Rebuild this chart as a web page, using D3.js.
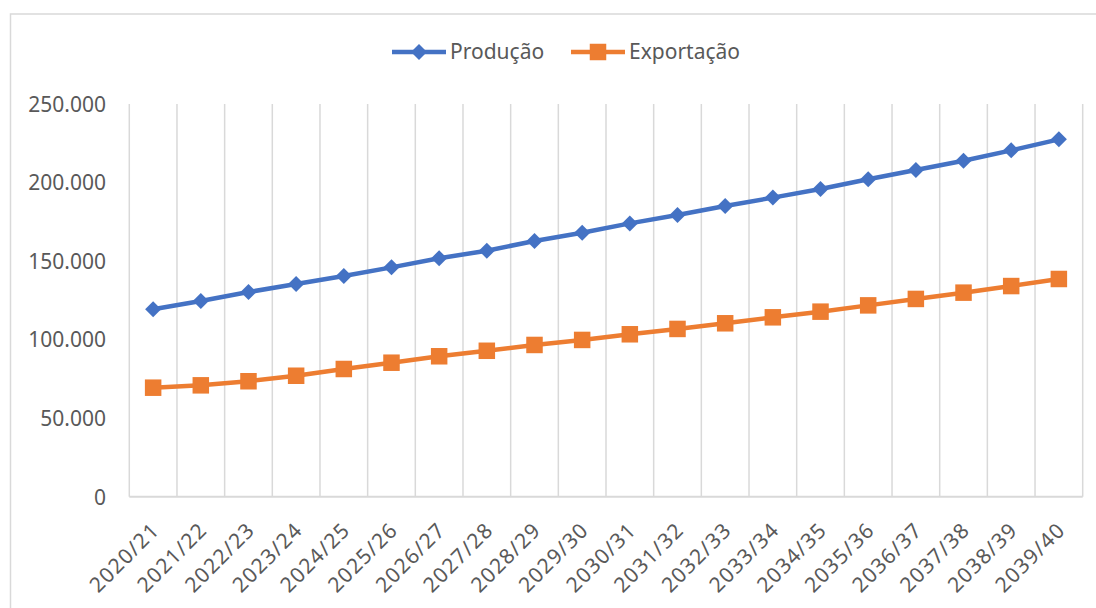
<!DOCTYPE html>
<html>
<head>
<meta charset="utf-8">
<script src="https://cdn.jsdelivr.net/npm/d3@7"></script>
<style>
  html, body { margin: 0; padding: 0; background: #fff; }
  svg { display: block; font-family: "Noto Sans", "Open Sans", sans-serif; }
</style>
</head>
<body>
<svg id="chart" width="1096" height="608"></svg>
<script>
// Harvest seasons
const categories = [
  "2020/21", "2021/22", "2022/23", "2023/24", "2024/25",
  "2025/26", "2026/27", "2027/28", "2028/29", "2029/30",
  "2030/31", "2031/32", "2032/33", "2033/34", "2034/35",
  "2035/36", "2036/37", "2037/38", "2038/39", "2039/40"
];

// Production per season
const producao = [
  119300, 124600, 130300, 135400, 140500,
  146000, 151800, 156600, 162800, 168000,
  174000, 179300, 185100, 190400, 195900,
  202100, 208000, 213900, 220500, 227500
];

// Exports per season
const exportacao = [
  69400, 70900, 73500, 77000, 81300,
  85300, 89400, 92900, 96600, 99800,
  103400, 106800, 110400, 114200, 117800,
  121800, 125900, 129900, 134100, 138600
];

const yTicks = [0, 50000, 100000, 150000, 200000, 250000];
const seriesNames = ["Produção", "Exportação"];

const svg = d3.select("#chart");
const W = 1096, H = 608;
const plot = { left: 129.3, right: 1082.7, top: 104, bottom: 496.7 };
const textColor = "#595959";
const gridColor = "#d9d9d9";
const blue = "#4472C4";
const orange = "#ED7D31";

// Outer chart frame
svg.append("rect")
  .attr("x", 10.5).attr("y", 14)
  .attr("width", W + 20).attr("height", H + 20)
  .attr("fill", "#fff")
  .attr("stroke", gridColor).attr("stroke-width", 1.5);

const x = d3.scaleBand().domain(categories).range([plot.left, plot.right]).padding(0);
const y = d3.scaleLinear().domain([0, 250000]).range([plot.bottom, plot.top]);

const fmt = v => v === 0 ? "0" : d3.format(",")(v).replace(/,/g, ".");

// Vertical gridlines at category boundaries
const bounds = categories.map(c => x(c)).concat([plot.right]);
svg.append("g").selectAll("line")
  .data(bounds)
  .join("line")
  .attr("x1", d => d).attr("x2", d => d)
  .attr("y1", plot.top).attr("y2", plot.bottom)
  .attr("stroke", gridColor).attr("stroke-width", 1.5);

// Category axis baseline
svg.append("line")
  .attr("x1", plot.left).attr("x2", plot.right)
  .attr("y1", plot.bottom).attr("y2", plot.bottom)
  .attr("stroke", gridColor).attr("stroke-width", 2);

// Value axis labels
const yAxis = d3.axisLeft(y).tickValues(yTicks).tickFormat(fmt).tickSize(0).tickPadding(0);
const yg = svg.append("g").attr("transform", `translate(${106},0)`).call(yAxis);
yg.select(".domain").remove();
yg.selectAll("text")
  .attr("fill", textColor)
  .attr("font-size", 21)
  .attr("font-family", "Noto Sans, sans-serif")
  .attr("dy", "0.35em");

// Category labels rotated 45 degrees
const xAxis = d3.axisBottom(x).tickSize(0).tickPadding(0);
const xg = svg.append("g").attr("transform", `translate(0,${plot.bottom})`).call(xAxis);
xg.select(".domain").remove();
xg.selectAll(".tick text")
  .attr("fill", textColor)
  .attr("font-size", 21)
  .attr("font-family", "Noto Sans, sans-serif")
  .attr("letter-spacing", 1.2)
  .attr("text-anchor", "end")
  .attr("dominant-baseline", "central")
  .attr("y", 0).attr("dy", 0)
  .attr("transform", "translate(2,29) rotate(-45)");

// Series lines and markers
const line = d3.line()
  .x((d, i) => x(categories[i]) + x.bandwidth() / 2)
  .y(d => y(d));

svg.append("path").datum(producao)
  .attr("d", line).attr("fill", "none")
  .attr("stroke", blue).attr("stroke-width", 4.5).attr("stroke-linejoin", "round");

svg.append("path").datum(exportacao)
  .attr("d", line).attr("fill", "none")
  .attr("stroke", orange).attr("stroke-width", 4.5).attr("stroke-linejoin", "round");

const diamond = (cx, cy, r) => `M${cx},${cy - r}L${cx + r},${cy}L${cx},${cy + r}L${cx - r},${cy}Z`;

svg.append("g").selectAll("path")
  .data(producao)
  .join("path")
  .attr("d", (d, i) => diamond(x(categories[i]) + x.bandwidth() / 2, y(d), 8))
  .attr("fill", blue);

const sq = 16.5;
svg.append("g").selectAll("rect")
  .data(exportacao)
  .join("rect")
  .attr("x", (d, i) => x(categories[i]) + x.bandwidth() / 2 - sq / 2)
  .attr("y", d => y(d) - sq / 2)
  .attr("width", sq).attr("height", sq)
  .attr("fill", orange);

// Legend
const legend = svg.append("g");
const legendItems = [
  { name: seriesNames[0], color: blue, x0: 392, shape: "diamond" },
  { name: seriesNames[1], color: orange, x0: 571, shape: "square" }
];
const ly = 52;
legendItems.forEach(it => {
  legend.append("line")
    .attr("x1", it.x0).attr("x2", it.x0 + 54)
    .attr("y1", ly).attr("y2", ly)
    .attr("stroke", it.color).attr("stroke-width", 4.5);
  const cx = it.x0 + 27;
  if (it.shape === "diamond") {
    legend.append("path").attr("d", diamond(cx, ly, 8)).attr("fill", it.color);
  } else {
    legend.append("rect").attr("x", cx - sq / 2).attr("y", ly - sq / 2)
      .attr("width", sq).attr("height", sq).attr("fill", it.color);
  }
  legend.append("text")
    .attr("x", it.x0 + 58).attr("y", ly)
    .attr("dy", "0.35em")
    .attr("fill", textColor)
    .attr("font-size", 21)
    .text(it.name);
});
</script>
</body>
</html>
